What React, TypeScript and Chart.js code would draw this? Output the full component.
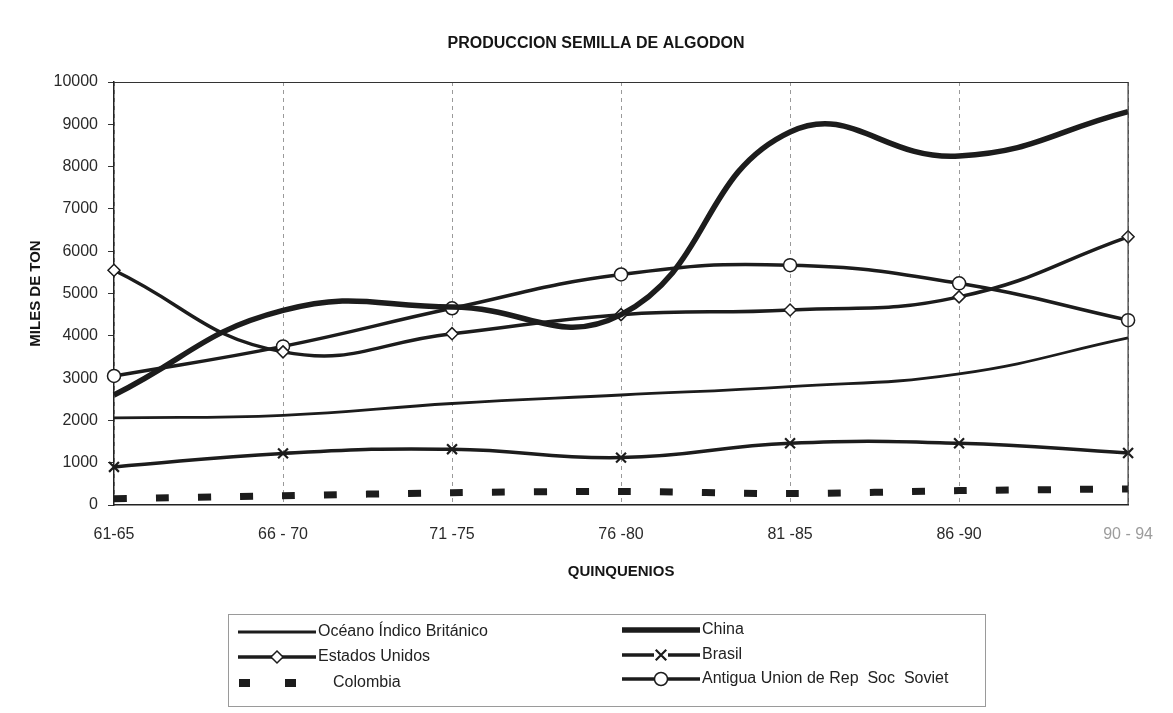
import React, { useEffect, useRef } from "react";
import { Chart, registerables } from "chart.js";

Chart.register(...registerables);

const categories = ["61-65", "66 - 70", "71 -75", "76 -80", "81 -85", "86 -90", "90 - 94"];
const oceanoIndico = [2060, 2120, 2400, 2600, 2800, 3100, 3950];
const china = [2600, 4600, 4680, 4500, 8820, 8250, 9300];
const estadosUnidos = [5550, 3620, 4050, 4500, 4610, 4920, 6340];
const brasil = [900, 1220, 1320, 1120, 1460, 1460, 1230];
const colombia = [150, 220, 290, 320, 270, 340, 380];
const urss = [3050, 3750, 4650, 5450, 5670, 5240, 4370];

const seriesNames = [
  "Océano Índico Británico",
  "China",
  "Estados Unidos",
  "Brasil",
  "Colombia",
  "Antigua Union de Rep  Soc  Soviet",
];
const chartTitle = "PRODUCCION SEMILLA DE ALGODON";

const FONT = "'Liberation Sans', Arial, sans-serif";
const INK = "#1c1c1c";

const frameAndLegend = {
  id: "frameAndLegend",
  afterDraw(chart: any) {
    const ctx = chart.ctx;
    const a = chart.chartArea;
    ctx.save();
    // chart title
    ctx.fillStyle = "#151515";
    ctx.font = `bold 16px ${FONT}`;
    ctx.textAlign = "center";
    ctx.textBaseline = "middle";
    ctx.fillText(chartTitle, 596, 44);

    // plot frame: top and right
    ctx.strokeStyle = "#333";
    ctx.lineWidth = 1.2;
    ctx.beginPath();
    ctx.moveTo(a.left, a.top + 0.5);
    ctx.lineTo(a.right, a.top + 0.5);
    ctx.lineTo(a.right, a.bottom);
    ctx.stroke();

    // legend box
    const bx = 228, by = 614, bw = 757, bh = 92;
    ctx.strokeStyle = "#9a9a9a";
    ctx.lineWidth = 1;
    ctx.strokeRect(bx + 0.5, by + 0.5, bw, bh);

    const pos = [
      { x: 238, y: 632 },
      { x: 622, y: 630 },
      { x: 238, y: 657 },
      { x: 622, y: 655 },
      { x: 238, y: 683 },
      { x: 622, y: 679 },
    ];
    chart.data.datasets.forEach((ds: any, i: number) => {
      const p = pos[i];
      const x0 = p.x, x1 = p.x + 78, y = p.y;
      ctx.save();
      ctx.strokeStyle = ds.borderColor;
      ctx.lineWidth = ds.borderWidth;
      ctx.lineCap = "butt";
      if (ds.borderDash && ds.borderDash.length) {
        ctx.fillStyle = ds.borderColor;
        ctx.fillRect(x0 + 1, y - 4, 11, 8);
        ctx.fillRect(x0 + 47, y - 4, 11, 8);
      } else {
        ctx.beginPath();
        ctx.moveTo(x0, y);
        ctx.lineTo(x1, y);
        ctx.stroke();
      }
      if (ds.pointRadius > 0) {
        const mx = (x0 + x1) / 2;
        ctx.fillStyle = ds.pointBackgroundColor;
        ctx.strokeStyle = ds.pointBorderColor;
        ctx.lineWidth = ds.pointBorderWidth;
        const r = ds.pointRadius;
        ctx.beginPath();
        if (ds.pointStyle === "circle") {
          ctx.arc(mx, y, r, 0, Math.PI * 2);
          ctx.fill();
          ctx.stroke();
        } else if (ds.pointStyle === "rectRot") {
          ctx.moveTo(mx, y - r);
          ctx.lineTo(mx + r, y);
          ctx.lineTo(mx, y + r);
          ctx.lineTo(mx - r, y);
          ctx.closePath();
          ctx.fill();
          ctx.stroke();
        } else if (ds.pointStyle === "crossRot") {
          ctx.fillStyle = "#fff";
          ctx.fillRect(mx - r, y - r, 2 * r, 2 * r);
          const d = r * 0.75;
          ctx.moveTo(mx - d, y - d);
          ctx.lineTo(mx + d, y + d);
          ctx.moveTo(mx + d, y - d);
          ctx.lineTo(mx - d, y + d);
          ctx.stroke();
        }
      }
      ctx.restore();
      ctx.fillStyle = "#222";
      ctx.font = `16px ${FONT}`;
      ctx.textBaseline = "middle";
      ctx.textAlign = "left";
      const tx = ds.borderDash && ds.borderDash.length ? x0 + 95 : x1 + 2;
      ctx.fillText(ds.label, tx, y);
    });
    ctx.restore();
  },
};

export default function App() {
  const canvasRef = useRef<HTMLCanvasElement | null>(null);

  useEffect(() => {
    const canvas = canvasRef.current;
    if (!canvas) return;
    const common = { fill: false, tension: 0.45, borderColor: INK, pointBorderColor: INK, pointBackgroundColor: "#fff" };
    const chart = new Chart(canvas, {
      type: "line",
      data: {
        labels: categories,
        datasets: [
          { ...common, label: seriesNames[0], data: oceanoIndico, borderWidth: 2.8, pointRadius: 0, pointStyle: "circle", pointBorderWidth: 0 },
          { ...common, label: seriesNames[1], data: china, borderWidth: 5.5, pointRadius: 0, pointStyle: "circle", pointBorderWidth: 0 },
          { ...common, label: seriesNames[2], data: estadosUnidos, borderWidth: 3.5, pointRadius: 6, pointStyle: "rectRot", pointBorderWidth: 1.5 },
          { ...common, label: seriesNames[3], data: brasil, borderWidth: 3.5, pointRadius: 7, pointStyle: "crossRot", pointBorderWidth: 2.2 },
          { ...common, label: seriesNames[4], data: colombia, borderWidth: 7, borderDash: [13, 29], borderCapStyle: "butt", pointRadius: 0, pointStyle: "circle", pointBorderWidth: 0, tension: 0.3 },
          { ...common, label: seriesNames[5], data: urss, borderWidth: 3.5, pointRadius: 6.5, pointStyle: "circle", pointBorderWidth: 1.5 },
        ],
      },
      options: {
        animation: false,
        responsive: false,
        maintainAspectRatio: false,
        layout: { padding: { left: 0, right: 40, top: 82, bottom: 128 } },
        plugins: {
          legend: { display: false },
          tooltip: { enabled: false },
          title: { display: false },
        },
        scales: {
          x: {
            type: "category",
            offset: false,
            grid: { display: true, drawOnChartArea: true, drawTicks: false, color: "#9a9a9a", lineWidth: 1 },
            border: { display: true, color: "#222", width: 1.5, dash: [4, 4] },
            ticks: {
              color: (c: any) => (c.index === categories.length - 1 ? "#9c9c9c" : "#2a2a2a"),
              font: { family: FONT, size: 16 },
              padding: 20,
              maxRotation: 0,
              autoSkip: false,
            },
            title: {
              display: true,
              text: "QUINQUENIOS",
              color: "#151515",
              font: { family: FONT, size: 15, weight: "bold" },
              padding: { top: 0, bottom: 4 },
            },
            afterFit: (s: any) => {
              s.height = 80;
            },
          },
          y: {
            min: 0,
            max: 10000,
            grid: { display: true, drawOnChartArea: false, drawTicks: true, tickLength: 6, color: "#333" },
            border: { display: true, color: "#222", width: 1.5 },
            ticks: {
              stepSize: 1000,
              color: "#2a2a2a",
              font: { family: FONT, size: 16 },
              padding: 10,
              callback: (v: any) => String(v),
            },
            title: {
              display: true,
              text: "MILES DE TON",
              color: "#151515",
              font: { family: FONT, size: 15, weight: "bold" },
              padding: { top: 27, bottom: 0 },
            },
            afterFit: (s: any) => {
              s.width = 114;
            },
          },
        },
      },
      plugins: [frameAndLegend],
    } as any);
    return () => chart.destroy();
  }, []);

  return (
    <div style={{ position: "absolute", left: 0, top: 0, width: 1173, height: 713, background: "#fff" }}>
      <canvas ref={canvasRef} width={1173} height={713} style={{ display: "block", width: 1173, height: 713 }} />
    </div>
  );
}
